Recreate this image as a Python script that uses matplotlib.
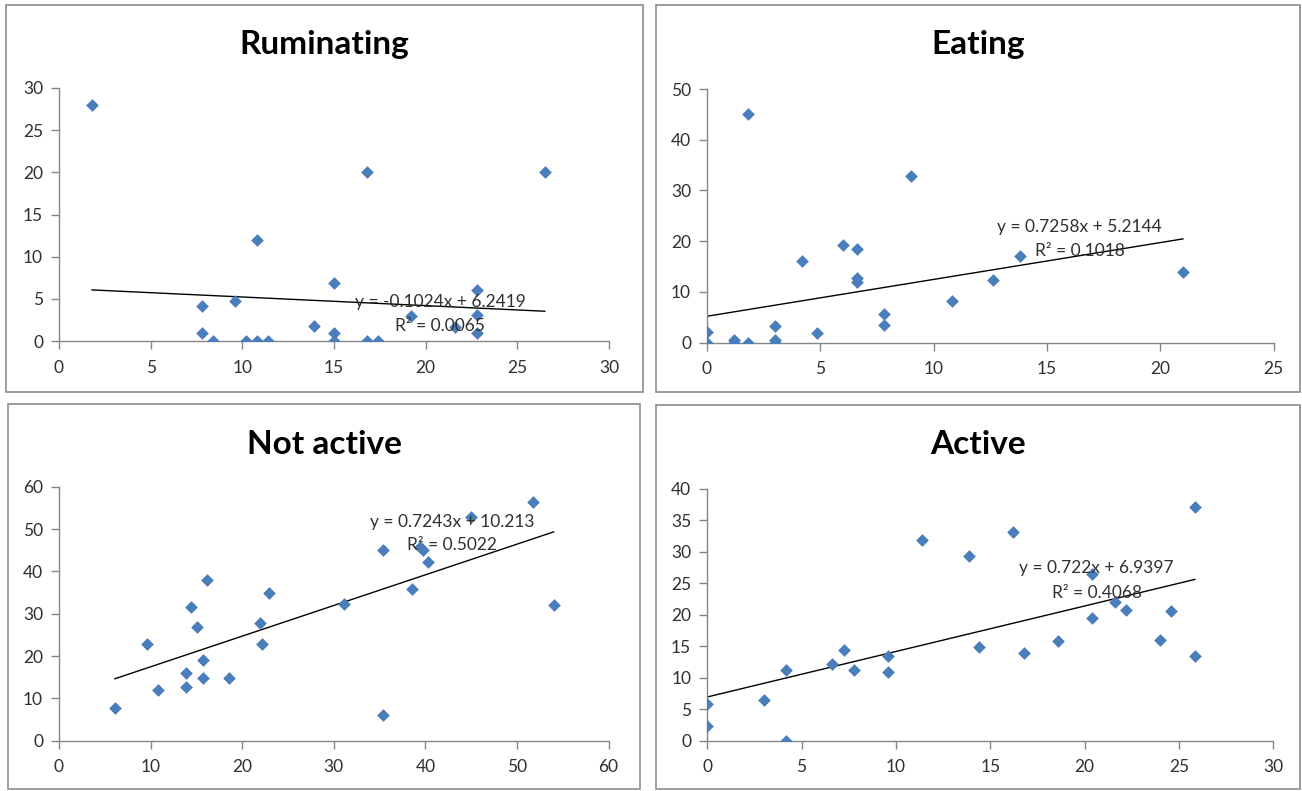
import matplotlib.pyplot as plt
from matplotlib.patches import Rectangle
import numpy as np

plt.rcParams['font.family'] = ['Lato', 'DejaVu Sans']

W, H = 1302, 791

# data
rum_x = [1.8, 7.8, 7.8, 8.4, 9.6, 10.2, 10.8, 10.8, 11.4, 13.9, 15.0, 15.0, 15.0,
         16.8, 16.8, 17.4, 19.2, 21.6, 22.8, 22.8, 22.8, 26.5]
rum_y = [28.0, 4.1, 1.0, 0.0, 4.7, 0.0, 12.0, 0.0, 0.0, 1.8, 6.9, 1.0, 0.0,
         20.0, 0.0, 0.0, 3.0, 1.7, 6.0, 3.1, 1.0, 20.0]
rum_fit = (-0.1024, 6.2419)
rum_eq = ['y = -0.1024x + 6.2419', 'R² = 0.0065']

eat_x = [0.0, 0.0, 1.2, 1.2, 1.8, 1.8, 3.0, 3.0, 3.0, 4.2, 4.85, 6.0, 6.6, 6.6,
         6.6, 7.8, 7.8, 9.0, 10.8, 12.6, 13.8, 21.0]
eat_y = [0.0, 2.1, 0.5, 0.0, 45.0, 0.0, 3.3, 0.5, 0.0, 16.2, 2.0, 19.2, 18.5, 12.7,
         12.0, 5.6, 3.5, 32.9, 8.3, 12.3, 17.1, 13.9]
eat_fit = (0.7258, 5.2144)
eat_eq = ['y = 0.7258x + 5.2144', 'R² = 0.1018']

na_x = [6.1, 9.6, 10.8, 13.9, 13.9, 14.4, 15.1, 15.7, 15.7, 16.2, 18.6, 21.9, 22.2,
        22.9, 31.1, 35.4, 35.4, 38.5, 39.4, 39.7, 40.3, 45.0, 51.8, 54.0]
na_y = [7.7, 22.9, 12.0, 15.9, 12.6, 31.7, 26.8, 19.0, 14.8, 38.0, 14.8, 27.8, 22.9,
        34.9, 32.3, 45.0, 6.0, 35.9, 45.7, 45.0, 42.3, 52.9, 56.3, 32.1]
na_fit = (0.7243, 10.213)
na_eq = ['y = 0.7243x + 10.213', 'R² = 0.5022']

act_x = [0.0, 0.0, 3.0, 4.2, 4.2, 6.6, 7.25, 7.8, 9.6, 9.6, 11.4, 13.85, 14.4, 16.2,
         16.8, 18.6, 20.4, 20.4, 21.6, 22.2, 24.0, 24.6, 25.85, 25.85]
act_y = [2.4, 5.9, 6.5, 0.0, 11.3, 12.2, 14.4, 11.3, 13.5, 10.9, 31.9, 29.3, 14.9, 33.1,
         14.0, 15.8, 19.4, 26.5, 22.0, 20.8, 16.0, 20.6, 37.1, 13.5]
act_fit = (0.722, 6.9397)
act_eq = ['y = 0.722x + 6.9397', 'R² = 0.4068']

fig = plt.figure(figsize=(W / 100, H / 100), dpi=100)


def px_box(x0, y0, x1, y1):
    return [x0 / W, 1 - y1 / H, (x1 - x0) / W, (y1 - y0) / H]


def panel(box, axbox, title, xs, ys, fit, eq, xmax, xstep, ymax, ystep, eqpos):
    r = box
    fig.add_artist(Rectangle((r[0], r[1]), r[2], r[3], transform=fig.transFigure,
                             fill=False, edgecolor='#8c8c8c', lw=1.2))
    fig.text(r[0] + r[2] / 2, r[1] + r[3] - 40 / H, title, ha='center', va='center',
             fontsize=24, fontweight='bold', color='black')
    ax = fig.add_axes(axbox)
    ax.scatter(xs, ys, marker='D', s=42, color='#4a7ebb', zorder=3, linewidths=0)
    xx = np.array([min(xs), max(xs)])
    ax.plot(xx, fit[0] * xx + fit[1], color='black', lw=1, zorder=2)
    ax.set_xlim(0, xmax)
    ax.set_ylim(0, ymax)
    ax.set_xticks(np.arange(0, xmax + 0.1, xstep))
    ax.set_yticks(np.arange(0, ymax + 0.1, ystep))
    for s in ['top', 'right']:
        ax.spines[s].set_visible(False)
    for s in ['left', 'bottom']:
        ax.spines[s].set_color('#868686')
        ax.spines[s].set_linewidth(1)
    ax.tick_params(direction='out', length=5.5, width=1, color='#868686',
                   labelsize=12.5, labelcolor='#303030')
    ax.tick_params(axis='x', pad=8)
    ax.tick_params(axis='y', pad=6)
    ax.patch.set_alpha(0)
    ax.text(eqpos[0], eqpos[1], eq[0], transform=ax.transAxes, ha='center',
            va='center', fontsize=12.5, color='#303030', zorder=4)
    ax.text(eqpos[0], eqpos[2], eq[1], transform=ax.transAxes, ha='center',
            va='center', fontsize=12.5, color='#303030', zorder=4)
    return ax


panel(px_box(6, 5, 643, 392), px_box(59, 88, 609, 341), 'Ruminating',
      rum_x, rum_y, rum_fit, rum_eq, 30, 5, 30, 5, (0.693, 0.155, 0.061))
panel(px_box(656, 5, 1300, 392), px_box(707, 89, 1273.6, 342.7), 'Eating',
      eat_x, eat_y, eat_fit, eat_eq, 25, 5, 50, 10, (0.658, 0.455, 0.363))
panel(px_box(8, 404, 640, 789), px_box(59, 486.7, 608.6, 740.7), 'Not active',
      na_x, na_y, na_fit, na_eq, 60, 10, 60, 10, (0.715, 0.862, 0.770))
panel(px_box(656, 405, 1300, 789), px_box(707.2, 488.7, 1273.2, 740.7), 'Active',
      act_x, act_y, act_fit, act_eq, 30, 5, 40, 5, (0.688, 0.684, 0.587))

fig.savefig('out.png', dpi=100)
